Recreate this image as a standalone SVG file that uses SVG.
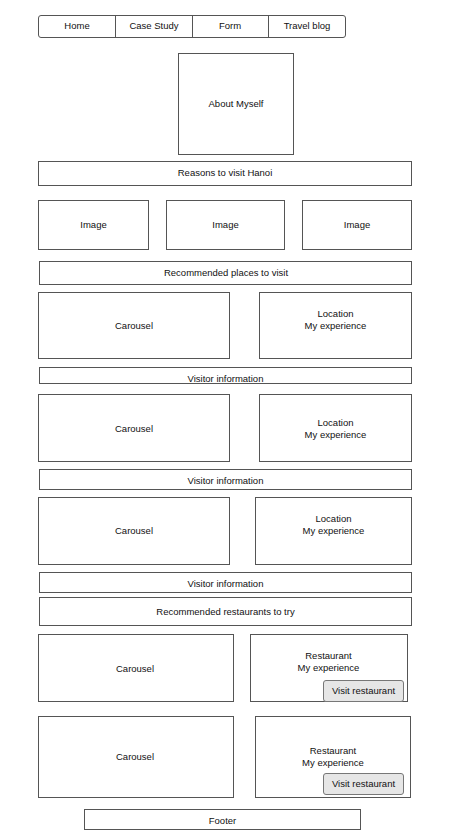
<svg xmlns="http://www.w3.org/2000/svg" width="473" height="836" viewBox="0 0 473 836">
<style>
.b{fill:#fff;stroke:#555;stroke-width:1}
.btn{fill:#e6e6e6;stroke:#777;stroke-width:1}
text{font-family:"Liberation Sans",Arial,sans-serif;font-size:9.5px;fill:#111;text-anchor:middle}
</style>
<rect width="473" height="836" fill="#fff"/>
<g id="nav">
<rect class="b" x="38.5" y="15.5" width="307" height="22" rx="2.5"/>
<line x1="115.5" y1="15.5" x2="115.5" y2="37.5" stroke="#555"/>
<line x1="192.5" y1="15.5" x2="192.5" y2="37.5" stroke="#555"/>
<line x1="268.5" y1="15.5" x2="268.5" y2="37.5" stroke="#555"/>
<text x="77" y="29">Home</text>
<text x="154" y="29">Case Study</text>
<text x="230" y="29">Form</text>
<text x="307" y="29">Travel blog</text>
</g>
<g id="about"><rect class="b" x="178.5" y="53.5" width="115" height="101"/><text x="236" y="107">About Myself</text></g>
<g id="reasons"><rect class="b" x="38.5" y="161.5" width="373" height="24"/><text x="225" y="175.5">Reasons to visit Hanoi</text></g>
<g id="img1"><rect class="b" x="38.5" y="200.5" width="110" height="49"/><text x="93.5" y="228">Image</text></g>
<g id="img2"><rect class="b" x="166.5" y="200.5" width="118" height="49"/><text x="225.5" y="228">Image</text></g>
<g id="img3"><rect class="b" x="302.5" y="200.5" width="109" height="49"/><text x="357" y="228">Image</text></g>
<g id="places"><rect class="b" x="39.5" y="261.5" width="372" height="23"/><text x="226" y="276">Recommended places to visit</text></g>
<g id="car1"><rect class="b" x="38.5" y="292.5" width="191" height="66"/><text x="134" y="328.5">Carousel</text></g>
<g id="loc1"><rect class="b" x="259.5" y="292.5" width="152" height="66"/><text x="335.5" y="317">Location</text><text x="335.5" y="329">My experience</text></g>
<g id="vis1"><rect class="b" x="39.5" y="367.5" width="372" height="16"/><text x="225.5" y="382">Visitor information</text></g>
<g id="car2"><rect class="b" x="38.5" y="394.5" width="191" height="67"/><text x="134" y="431.5">Carousel</text></g>
<g id="loc2"><rect class="b" x="259.5" y="394.5" width="152" height="67"/><text x="335.5" y="426">Location</text><text x="335.5" y="438">My experience</text></g>
<g id="vis2"><rect class="b" x="39.5" y="469.5" width="372" height="20"/><text x="225.5" y="483.5">Visitor information</text></g>
<g id="car3"><rect class="b" x="38.5" y="497.5" width="191" height="67"/><text x="134" y="534">Carousel</text></g>
<g id="loc3"><rect class="b" x="255.5" y="497.5" width="156" height="67"/><text x="333.5" y="522">Location</text><text x="333.5" y="534">My experience</text></g>
<g id="vis3"><rect class="b" x="39.5" y="572.5" width="372" height="20"/><text x="225.5" y="586.5">Visitor information</text></g>
<g id="restaurants"><rect class="b" x="39.5" y="597.5" width="372" height="28"/><text x="225.5" y="614.5">Recommended restaurants to try</text></g>
<g id="car4"><rect class="b" x="38.5" y="634.5" width="195" height="67"/><text x="135" y="671.5">Carousel</text></g>
<g id="rest1"><rect class="b" x="250.5" y="634.5" width="157" height="67"/><text x="328.5" y="659">Restaurant</text><text x="328.5" y="671">My experience</text>
<rect class="btn" x="323.5" y="680.5" width="80" height="21" rx="2.5"/><text x="363.5" y="694">Visit restaurant</text></g>
<g id="car5"><rect class="b" x="38.5" y="716.5" width="195" height="81"/><text x="135" y="760">Carousel</text></g>
<g id="rest2"><rect class="b" x="255.5" y="716.5" width="155" height="81"/><text x="333" y="753.5">Restaurant</text><text x="333" y="765.5">My experience</text>
<rect class="btn" x="323.5" y="773.5" width="80" height="21" rx="2.5"/><text x="363.5" y="787">Visit restaurant</text></g>
<g id="footer"><rect class="b" x="84.5" y="809.5" width="276" height="20"/><text x="222.5" y="823.5">Footer</text></g>
<g id="connectors"></g>
</svg>
